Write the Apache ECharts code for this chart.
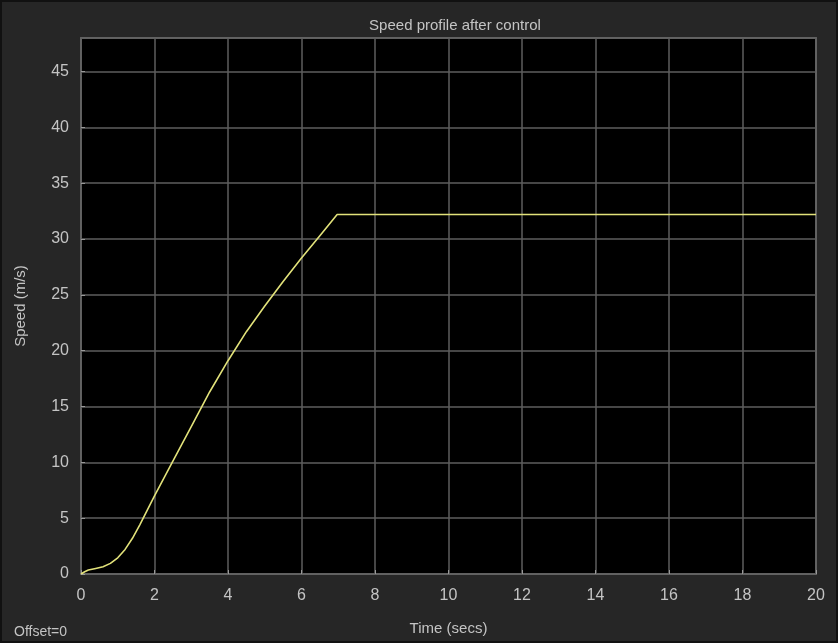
<!DOCTYPE html>
<html>
<head>
<meta charset="UTF-8">
<title>Speed profile after control</title>
<script type="text/javascript" src="https://cdn.jsdelivr.net/npm/echarts@6/dist/echarts.min.js"></script>
<style>
html,body{margin:0;padding:0;background:#262626;}
#main{width:838px;height:643px;box-sizing:border-box;border:2px solid #111;}
</style>
</head>
<body>
<div id="main"></div>

<script type="text/javascript">
// time (s) and speed (m/s)
var times  = [0, 0.1, 0.2, 0.4, 0.6, 0.8, 1.0, 1.2, 1.4, 1.6, 1.8, 2.0, 2.5, 3.0, 3.5, 4.0, 4.5, 5.0, 5.5, 6.0, 6.5, 6.97, 20];
var speeds = [0, 0.2, 0.35, 0.5, 0.65, 0.95, 1.45, 2.2, 3.2, 4.4, 5.7, 7.0, 10.1, 13.2, 16.3, 19.1, 21.7, 24.0, 26.2, 28.3, 30.3, 32.2, 32.2];
var xTicks = [0, 2, 4, 6, 8, 10, 12, 14, 16, 18, 20];
var yTicks = [0, 5, 10, 15, 20, 25, 30, 35, 40, 45];

var data = [];
for (var i = 0; i < times.length; i++) {
  data.push([times[i], speeds[i]]);
}

var txt = '#c4c4c4';
var mychart = echarts.init(document.getElementById("main"));
var option = {
  backgroundColor: '#262626',
  animation: false,
  title: {
    text: 'Speed profile after control',
    left: 448, top: 11, textAlign: 'center',
    textStyle: { color: txt, fontSize: 15, fontWeight: 'normal', fontFamily: 'Liberation Sans' }
  },
  graphic: [{
    type: 'text', left: 12, top: 623,
    style: { text: 'Offset=0', fill: txt, fontSize: 14, fontFamily: 'Liberation Sans' }
  }],
  grid: {
    left: 79, right: 20, top: 36, bottom: 61,
    show: true, backgroundColor: '#000', borderColor: '#8a8a8a', borderWidth: 1.5
  },
  xAxis: {
    type: 'value', min: 0, max: 20, interval: 2,
    name: 'Time (secs)', nameLocation: 'middle', nameGap: 47,
    nameTextStyle: { color: txt, fontSize: 15, fontFamily: 'Liberation Sans' },
    axisLine: { show: false },
    axisTick: { inside: true, length: 4, lineStyle: { color: '#999' } },
    axisLabel: {
      color: txt, fontSize: 16, margin: 14, fontFamily: 'Liberation Sans',
      formatter: function (v) { return xTicks.indexOf(v) >= 0 ? v : ''; }
    },
    splitLine: { show: true, lineStyle: { color: '#5e5e5e', width: 1.5 } }
  },
  yAxis: {
    type: 'value', min: 0, max: 48, interval: 5,
    name: 'Speed (m/s)', nameLocation: 'middle', nameGap: 53,
    nameTextStyle: { color: txt, fontSize: 15, fontFamily: 'Liberation Sans' },
    axisLine: { show: false },
    axisTick: { inside: true, length: 4, lineStyle: { color: '#999' } },
    axisLabel: {
      color: txt, fontSize: 16, margin: 12, fontFamily: 'Liberation Sans', showMaxLabel: false,
      formatter: function (v) { return yTicks.indexOf(v) >= 0 ? v : ''; }
    },
    splitLine: { show: true, lineStyle: { color: '#5e5e5e', width: 1.5 } }
  },
  series: [{
    type: 'line',
    data: data,
    showSymbol: false,
    lineStyle: { color: '#e2e27a', width: 1.6 }
  }]
};
mychart.setOption(option);
</script>
</body>
</html>
